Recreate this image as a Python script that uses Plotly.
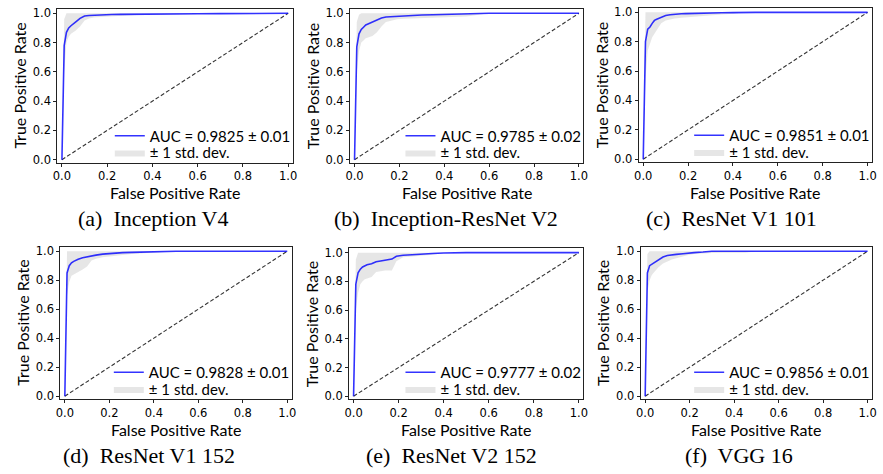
import plotly.graph_objects as go

W, H = 883, 474

# ---------------- data ----------------
FPR = [0, 0.01, 0.02, 0.03, 0.04, 0.05, 0.06, 0.08, 0.10, 0.12, 0.14, 0.17, 0.19,
       0.22, 0.26, 0.30, 0.35, 0.40, 0.45, 0.50, 0.60, 0.70, 0.80, 0.90, 1.0]

CAPTIONS = ["(a)  Inception V4", "(b)  Inception-ResNet V2", "(c)  ResNet V1 101",
            "(d)  ResNet V1 152", "(e)  ResNet V2 152", "(f)  VGG 16"]
AUC_LABELS = ["AUC = 0.9825 ± 0.01", "AUC = 0.9785 ± 0.02", "AUC = 0.9851 ± 0.01",
              "AUC = 0.9828 ± 0.01", "AUC = 0.9777 ± 0.02", "AUC = 0.9856 ± 0.01"]
STD_LABEL = "± 1 std. dev."
TICKS = [0.0, 0.2, 0.4, 0.6, 0.8, 1.0]

MEAN_INCEPTION_V4 = [0, 0.78, 0.87, 0.90, 0.915, 0.93, 0.94, 0.965, 0.982, 0.985, 0.987, 0.99, 0.991,
                     0.992, 0.993, 0.994, 0.995, 0.995, 0.996, 0.996, 0.997, 0.998, 1.0, 1.0, 1.0]
LOWER_INCEPTION_V4 = [0, 0.60, 0.80, 0.84, 0.86, 0.87, 0.88, 0.91, 0.95, 0.965, 0.972, 0.975, 0.977,
                      0.98, 0.982, 0.985, 0.99, 0.99, 0.992, 0.993, 0.995, 0.996, 1.0, 1.0, 1.0]
UPPER_INCEPTION_V4 = [0, 0.96, 1, 1, 1, 1, 1, 1, 1, 1, 1, 1, 1, 1, 1, 1, 1, 1, 1, 1, 1, 1, 1, 1, 1]

MEAN_INC_RESNET_V2 = [0, 0.77, 0.86, 0.89, 0.905, 0.92, 0.927, 0.94, 0.955, 0.968, 0.975, 0.978, 0.98,
                      0.983, 0.986, 0.988, 0.99, 0.992, 0.995, 0.997, 1.0, 1.0, 1.0, 1.0, 1.0]
LOWER_INC_RESNET_V2 = [0, 0.60, 0.74, 0.80, 0.815, 0.83, 0.835, 0.845, 0.87, 0.91, 0.94, 0.955, 0.96,
                       0.963, 0.965, 0.968, 0.97, 0.972, 0.975, 0.978, 1.0, 1.0, 1.0, 1.0, 1.0]
UPPER_INC_RESNET_V2 = [0, 0.94, 0.99, 1, 1, 1, 1, 1, 1, 1, 1, 1, 1, 1, 1, 1, 1, 1, 1, 1, 1, 1, 1, 1, 1]

MEAN_RESNET_V1_101 = [0, 0.80, 0.885, 0.90, 0.925, 0.945, 0.953, 0.968, 0.978, 0.983, 0.987, 0.99, 0.991,
                      0.993, 0.995, 0.996, 0.997, 0.998, 1.0, 1.0, 1.0, 1.0, 1.0, 1.0, 1.0]
LOWER_RESNET_V1_101 = [0, 0.55, 0.74, 0.79, 0.83, 0.855, 0.88, 0.925, 0.945, 0.952, 0.958, 0.963, 0.966,
                       0.97, 0.975, 0.98, 0.985, 0.99, 1.0, 1.0, 1.0, 1.0, 1.0, 1.0, 1.0]
UPPER_RESNET_V1_101 = [0, 1, 1, 1, 1, 1, 1, 1, 1, 1, 1, 1, 1, 1, 1, 1, 1, 1, 1, 1, 1, 1, 1, 1, 1]

MEAN_RESNET_V1_152 = [0, 0.85, 0.90, 0.92, 0.93, 0.938, 0.945, 0.955, 0.962, 0.968, 0.973, 0.98, 0.983,
                      0.987, 0.99, 0.992, 0.994, 0.996, 1.0, 1.0, 1.0, 1.0, 1.0, 1.0, 1.0]
LOWER_RESNET_V1_152 = [0, 0.70, 0.79, 0.83, 0.84, 0.85, 0.857, 0.873, 0.895, 0.935, 0.948, 0.958, 0.962,
                       0.967, 0.974, 0.98, 0.985, 0.99, 1.0, 1.0, 1.0, 1.0, 1.0, 1.0, 1.0]
UPPER_RESNET_V1_152 = [0, 1, 1, 1, 1, 1, 1, 1, 1, 1, 1, 1, 1, 1, 1, 1, 1, 1, 1, 1, 1, 1, 1, 1, 1]

MEAN_RESNET_V2_152 = [0, 0.78, 0.86, 0.885, 0.90, 0.91, 0.915, 0.922, 0.937, 0.942, 0.947, 0.955, 0.975,
                      0.982, 0.985, 0.99, 0.994, 0.997, 1.0, 1.0, 1.0, 1.0, 1.0, 1.0, 1.0]
LOWER_RESNET_V2_152 = [0, 0.60, 0.72, 0.78, 0.80, 0.815, 0.82, 0.83, 0.865, 0.872, 0.875, 0.876, 0.94,
                       0.968, 0.975, 0.978, 0.985, 0.997, 1.0, 1.0, 1.0, 1.0, 1.0, 1.0, 1.0]
UPPER_RESNET_V2_152 = [0, 0.95, 1, 1, 1, 1, 1, 1, 1, 1, 1, 1, 1, 1, 1, 1, 1, 1, 1, 1, 1, 1, 1, 1, 1]

MEAN_VGG_16 = [0, 0.85, 0.90, 0.91, 0.925, 0.935, 0.942, 0.96, 0.97, 0.975, 0.978, 0.982, 0.986,
               0.99, 0.994, 1.0, 1.0, 1.0, 1.0, 1.0, 1.0, 1.0, 1.0, 1.0, 1.0]
LOWER_VGG_16 = [0, 0.72, 0.80, 0.835, 0.855, 0.875, 0.89, 0.915, 0.93, 0.942, 0.952, 0.965, 0.972,
                0.98, 0.985, 0.988, 0.99, 0.99, 0.99, 1.0, 1.0, 1.0, 1.0, 1.0, 1.0]
UPPER_VGG_16 = [0, 0.98, 1, 1, 1, 1, 1, 1, 1, 1, 1, 1, 1, 1, 1, 1, 1, 1, 1, 1, 1, 1, 1, 1, 1]

MEANS = [MEAN_INCEPTION_V4, MEAN_INC_RESNET_V2, MEAN_RESNET_V1_101,
         MEAN_RESNET_V1_152, MEAN_RESNET_V2_152, MEAN_VGG_16]
LOWERS = [LOWER_INCEPTION_V4, LOWER_INC_RESNET_V2, LOWER_RESNET_V1_101,
          LOWER_RESNET_V1_152, LOWER_RESNET_V2_152, LOWER_VGG_16]
UPPERS = [UPPER_INCEPTION_V4, UPPER_INC_RESNET_V2, UPPER_RESNET_V1_101,
          UPPER_RESNET_V1_152, UPPER_RESNET_V2_152, UPPER_VGG_16]

# ---------------- layout (pixel frames: left, right, top, bottom) ----------------
FRAMES = [(53, 291, 6, 162), (349, 585, 6, 162), (641, 877, 5, 161.5),
          (56, 290, 247.5, 402), (348, 585, 249, 402), (643, 877, 247.5, 402)]
CAPTION_X = [150, 446.5, 735, 146, 451.5, 742]

SANS = "Lato"
SERIF = "Liberation Serif"
TICKFONT = dict(family="DejaVu Sans", size=11.5, color="black")


def px(x):
    return x / W


def py(y):
    return 1 - y / H


fig = go.Figure()
layout = dict(
    width=W, height=H,
    margin=dict(l=0, r=0, t=0, b=0),
    paper_bgcolor="white", plot_bgcolor="white",
    showlegend=True,
)
annotations = []

for i in range(6):
    n = "" if i == 0 else str(i + 1)
    xa, ya = "x" + n, "y" + n
    l, r, t, b = FRAMES[i]
    leg1 = "legend" if i == 0 else "legend%d" % (2 * i + 1)
    leg2 = "legend%d" % (2 * i + 2)

    # std band
    fig.add_trace(go.Scatter(x=FPR, y=UPPERS[i], mode="lines", line=dict(width=0, color="rgba(0,0,0,0)"),
                             showlegend=False, hoverinfo="skip", xaxis=xa, yaxis=ya))
    fig.add_trace(go.Scatter(x=FPR, y=LOWERS[i], mode="lines", line=dict(width=0, color="rgba(0,0,0,0)"),
                             fill="tonexty", fillcolor="rgba(128,128,128,0.2)",
                             name=STD_LABEL, legend=leg2, xaxis=xa, yaxis=ya))
    # chance diagonal
    fig.add_trace(go.Scatter(x=[0, 1], y=[0, 1], mode="lines",
                             line=dict(color="rgba(0,0,0,0.8)", width=1.1, dash="4px,2.2px"),
                             showlegend=False, xaxis=xa, yaxis=ya))
    # mean ROC
    fig.add_trace(go.Scatter(x=FPR, y=MEANS[i], mode="lines",
                             line=dict(color="rgba(0,0,255,0.8)", width=1.6),
                             name=AUC_LABELS[i], legend=leg1, xaxis=xa, yaxis=ya))

    axcommon = dict(showgrid=False, zeroline=False, showline=True, mirror=True,
                    linecolor="#222", linewidth=1.1, ticks="outside", ticklen=3,
                    tickcolor="#222", tickvals=TICKS, tickformat=".1f", tickfont=TICKFONT)
    layout["xaxis" + n] = dict(axcommon, domain=[px(l), px(r)], range=[-0.02, 1.02],
                               anchor=ya)
    layout["yaxis" + n] = dict(axcommon, domain=[py(b), py(t)], range=[-0.02, 1.03],
                               anchor=xa)

    text_x = r - 142
    row1 = b - 27
    row2 = row1 + 17
    legcommon = dict(xref="paper", yref="paper", xanchor="left", yanchor="middle",
                     bgcolor="rgba(0,0,0,0)", borderwidth=0, itemwidth=30,
                     font=dict(family=SANS, size=15, color="black"))
    layout[leg1] = dict(legcommon, x=px(text_x - 43), y=py(row1))
    layout[leg2] = dict(legcommon, x=px(text_x - 43), y=py(row2))

    # axis titles
    annotations.append(dict(text="False Positive Rate", xref="paper", yref="paper",
                            x=px((l + r) / 2), y=py(b + 30.5), showarrow=False,
                            xanchor="center", yanchor="middle",
                            font=dict(family=SANS, size=16, color="black")))
    annotations.append(dict(text="True Positive Rate", xref="paper", yref="paper",
                            x=px(l - 38), y=py((t + b) / 2), showarrow=False, textangle=-90,
                            xanchor="center", yanchor="middle",
                            font=dict(family=SANS, size=16, color="black")))
    annotations.append(dict(text=CAPTIONS[i].replace("  ", "\u00a0 "), xref="paper", yref="paper",
                            x=px(CAPTION_X[i]), y=py(b + 57), showarrow=False,
                            xanchor="center", yanchor="middle",
                            font=dict(family=SERIF, size=22, color="black")))

layout["annotations"] = annotations
fig.update_layout(**layout)
fig.write_html("out.html", config={"displayModeBar": False},
               post_script="document.body.style.margin='0';document.body.style.overflow='hidden';")
